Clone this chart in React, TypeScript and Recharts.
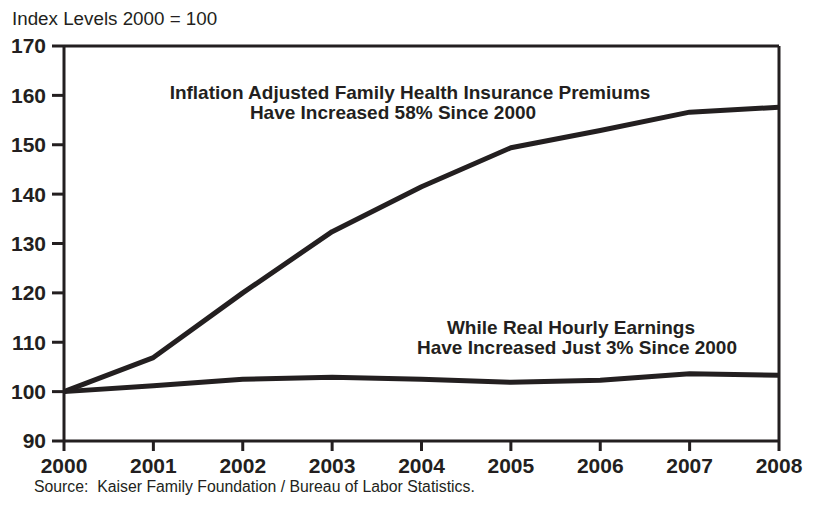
import { LineChart, Line, XAxis, YAxis, ReferenceLine } from 'recharts';

const years = [2000, 2001, 2002, 2003, 2004, 2005, 2006, 2007, 2008];
const premiums = [100, 106.9, 120.0, 132.4, 141.5, 149.4, 152.9, 156.6, 157.6];
const earnings = [100, 101.2, 102.5, 102.9, 102.5, 101.9, 102.3, 103.6, 103.3];
const yTicks = [90, 100, 110, 120, 130, 140, 150, 160, 170];

const data = years.map((year, i) => ({ year, premiums: premiums[i], earnings: earnings[i] }));

const ink = '#231f20';
const font = '"Liberation Sans", Arial, sans-serif';

// one centred line of annotation text
function Note({ cx, cy, text }: { cx: number; cy: number; text: string }) {
  return (
    <div
      style={{
        position: 'absolute',
        left: cx - 300,
        top: cy - 10,
        width: 600,
        textAlign: 'center',
        fontSize: 19,
        fontWeight: 700,
        lineHeight: '20px',
        whiteSpace: 'nowrap',
      }}
    >
      {text}
    </div>
  );
}

export default function App() {
  const tickStyle = { fill: ink, fontSize: 21, fontWeight: 700, fontFamily: font };
  return (
    <div style={{ position: 'absolute', left: 0, top: 0, width: 814, height: 506, background: '#fff', fontFamily: font, color: ink }}>
      <LineChart width={814} height={506} data={data} margin={{ top: 46, right: 35, bottom: 20, left: 4 }}>
        <XAxis
          dataKey="year"
          type="number"
          domain={[2000, 2008]}
          ticks={years}
          axisLine={{ stroke: ink, strokeWidth: 3 }}
          tickLine={{ stroke: ink, strokeWidth: 3 }}
          tickSize={10}
          tick={tickStyle}
          tickMargin={7}
          height={45}
        />
        <YAxis
          type="number"
          domain={[90, 170]}
          ticks={yTicks}
          axisLine={{ stroke: ink, strokeWidth: 3 }}
          tickLine={{ stroke: ink, strokeWidth: 3 }}
          tickSize={12}
          tick={tickStyle}
          tickMargin={6}
          width={60}
        />
        <ReferenceLine y={170} stroke={ink} strokeWidth={3} />
        <ReferenceLine x={2008} stroke={ink} strokeWidth={3} />
        <Line dataKey="premiums" stroke={ink} strokeWidth={5} dot={false} isAnimationActive={false} strokeLinejoin="round" />
        <Line dataKey="earnings" stroke={ink} strokeWidth={5} dot={false} isAnimationActive={false} strokeLinejoin="round" />
      </LineChart>
      <div style={{ position: 'absolute', left: 12, top: 8, fontSize: 18.8, lineHeight: '22px' }}>Index Levels 2000 = 100</div>
      <Note cx={410} cy={93} text="Inflation Adjusted Family Health Insurance Premiums" />
      <Note cx={393} cy={113} text="Have Increased 58% Since 2000" />
      <Note cx={571} cy={328} text="While Real Hourly Earnings" />
      <Note cx={577} cy={348} text="Have Increased Just 3% Since 2000" />
      <div style={{ position: 'absolute', left: 34, top: 478, fontSize: 15.8, lineHeight: '18px' }}>
        Source:&nbsp; Kaiser Family Foundation / Bureau of Labor Statistics.
      </div>
    </div>
  );
}
